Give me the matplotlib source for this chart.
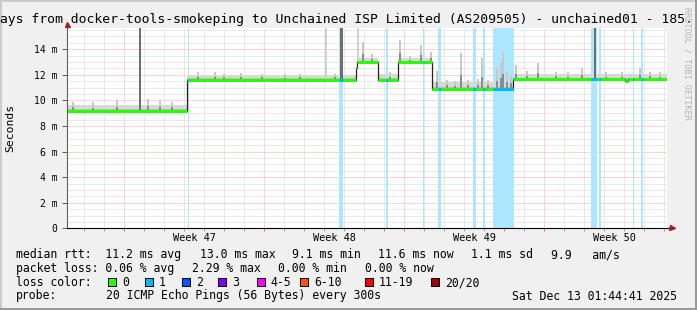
import matplotlib
matplotlib.use("Agg")
import matplotlib.pyplot as plt
from matplotlib.patches import Rectangle

W, H = 697, 310
plt.rcParams['font.family'] = ['DejaVu Sans Mono']

# x axis is days since the start of the 30 day window
week_labels = ["Week 47", "Week 48", "Week 49", "Week 50"]
week_starts = [2.865, 9.865, 16.865, 23.865]
first_midnight = 0.865

ytick_vals = [0, 2, 4, 6, 8, 10, 12, 14]
ytick_text = ["0", "2 m", "4 m", "6 m", "8 m", "10 m", "12 m", "14 m"]

# median rtt in ms, as steps
med_start = [0.0, 6.0, 14.45, 14.5, 15.55, 16.55, 18.27, 22.28, 27.9, 28.05]
med_value = [9.15, 11.6, 12.5, 13.0, 11.6, 13.0, 10.9, 11.65, 11.5, 11.65]

# smoke above the median
smoke_start = [0.0, 6.0, 14.5, 15.55, 16.55, 18.27, 22.28]
smoke_end = [6.0, 14.45, 15.55, 16.55, 18.27, 22.28, 30.0]
smoke_top = [9.65, 12.0, 13.3, 12.05, 13.3, 11.45, 12.1]

# single smoke spikes
spike_day = [0.29, 1.3, 2.5, 4.07, 4.65, 5.25,
             6.55, 7.4, 7.85, 8.7, 9.75, 10.9, 11.65, 13.4,
             14.82, 15.25,
             16.15,
             16.67, 17.15, 17.72, 18.2,
             18.48, 18.99, 19.4, 19.7, 20.05, 20.55, 20.74, 21.05, 21.48, 21.7, 21.8, 22.0, 22.2,
             22.45, 23.0, 23.55, 24.45, 25.05, 25.75, 26.95, 27.75, 28.65, 29.15, 29.65]
spike_top = [9.9, 9.85, 10.0, 10.15, 9.95, 9.9,
             12.25, 12.2, 12.1, 12.15, 12.1, 12.05, 12.1, 12.1,
             14.6, 13.6,
             12.2,
             14.7, 13.5, 14.3, 13.8,
             12.3, 11.6, 11.5, 13.7, 11.6, 11.7, 13.3, 11.6, 12.5, 13.0, 13.8, 12.2, 12.0,
             12.75, 12.3, 12.9, 12.25, 12.2, 12.5, 12.2, 12.2, 12.5, 12.25, 12.2]

# smoke going off the top of the graph
tall_day = [12.95, 14.55]
dark_start = [3.6, 13.65, 26.33]
dark_end = [3.7, 13.8, 26.45]

# periods with 1/20 packet loss
loss_start = [6.05, 13.6, 15.93, 17.8, 18.53, 20.3, 20.8, 21.3, 26.2, 26.58, 28.3, 28.68]
loss_end = [6.10, 13.8, 16.05, 17.85, 18.7, 20.45, 20.88, 22.33, 26.5, 26.7, 28.37, 28.82]

loss_names = ["0", "1", "2", "3", "4-5", "6-10", "11-19", "20/20"]
loss_colors = ["#26ff00", "#00b8ff", "#0059ff", "#7e00ff", "#ff00ff", "#ff5500", "#ff0000", "#a10000"]

title = "Last 30 Days from docker-tools-smokeping to Unchained ISP Limited (AS209505) - unchained01 - 185."


def med_at(d):
    v = med_value[0]
    for s, m in zip(med_start, med_value):
        if d >= s:
            v = m
    return v


def fx(px):
    return px / W


def fy(py):
    return 1 - py / H


fig = plt.figure(figsize=(W / 100, H / 100), dpi=100, facecolor="#f0f0f0")
ax = fig.add_axes([fx(67), fy(228.3), 600 / W, 200 / H])
ax.set_facecolor("white")
ax.set_xlim(0, 30)
ax.set_ylim(0, 15.64)
for s in ax.spines.values():
    s.set_visible(False)

# grid
ax.set_xticks(week_starts)
ax.set_xticks([first_midnight + i for i in range(30)], minor=True)
ax.set_yticks(ytick_vals)
ax.set_yticklabels(ytick_text)
ax.set_yticks([i * 0.5 for i in range(32)], minor=True)
ax.set_xticklabels([])
ax.grid(which="major", color="#ffa8a8", linestyle=(0, (1, 1)), lw=0.72, zorder=0)
ax.grid(which="minor", color="#d4d4d4", linestyle=(0, (1, 1)), lw=0.72, zorder=0)
ax.set_axisbelow(True)
ax.tick_params(axis="x", which="major", color="#ff6060", length=2.5, width=0.72)
ax.tick_params(axis="x", which="minor", color="#a0a0a0", length=2.5, width=0.72)
ax.tick_params(axis="y", which="minor", length=0)
ax.tick_params(axis="y", which="major", color="#606060", length=3.5, width=0.72,
               pad=3.5, labelsize=7.0)

# loss bars
for a, b in zip(loss_start, loss_end):
    ax.axvspan(a, b, color="#abe8ff", lw=0, zorder=1)

# smoke
for a, b, t in zip(smoke_start, smoke_end, smoke_top):
    base = med_at((a + b) / 2)
    ax.fill_between([a, b], base - 0.12, t, color="#d8d8d8", lw=0, zorder=2)
    ax.fill_between([a, b], base - 0.12, base + 0.3 * (t - base), color="#c0c0c0", lw=0, zorder=2)

for d, t in zip(spike_day, spike_top):
    base = med_at(d)
    ax.bar(d, t - base, width=0.1, bottom=base, color="#c8c8c8", lw=0, zorder=3)
    ax.bar(d, 0.4 * (t - base), width=0.1, bottom=base, color="#8c8c8c", lw=0, zorder=3)

for d in tall_day:
    base = med_at(d)
    ax.bar(d, 20 - base, width=0.1, bottom=base, color="#d0d0d0", lw=0, zorder=3)

for a, b in zip(dark_start, dark_end):
    base = med_at(a)
    ax.bar(a, 20 - base, width=b - a, bottom=base, align="edge", color="#6e6e6e", lw=0, zorder=3)

# median
med_end = med_start[1:] + [30.0]
ax.step(med_start + [30.0], med_value + [med_value[-1]], where="post",
        color="#202020", lw=0.9, zorder=4)
ax.hlines(med_value, med_start, med_end, colors=loss_colors[0], lw=2.2, zorder=5)
for a, b in zip(loss_start, loss_end):
    for s, e, v in zip(med_start, med_end, med_value):
        lo, hi = max(a, s), min(b, e)
        if hi > lo:
            ax.hlines(v, lo, hi, colors=loss_colors[1], lw=2.2, zorder=6)

# axes with arrows
ax.plot([0, 0], [0, 1.02], transform=ax.transAxes, color="#606060", lw=0.8, clip_on=False, zorder=7)
ax.plot([0, 1.002], [0, 0], transform=ax.transAxes, color="black", lw=0.8, clip_on=False, zorder=7)
ax.plot([0], [1.0225], transform=ax.transAxes, marker="^", ms=3.6, color="#a02020", clip_on=False, zorder=8)
ax.plot([1.0075], [0], transform=ax.transAxes, marker=">", ms=3.6, color="#a02020", clip_on=False, zorder=8)

for lab, ws in zip(week_labels, week_starts):
    ax.text(ws + 3.5, -0.0635, lab, transform=ax.get_xaxis_transform(),
            ha="center", va="baseline", fontsize=7.4)

# texts around the graph
fig.text(fx(-71.4), fy(22.7), title, ha="left", va="baseline", fontsize=9.42)
fig.text(fx(10), fy(128), "Seconds", rotation=90, ha="center", va="center", fontsize=8.2)
fig.text(fx(687), fy(63), "RRDTOOL / TOBI OETIKER", rotation=-90, ha="center", va="center",
         fontsize=6.1, color="#b4b4b4")

fs = 8.32
row1 = [(15.5, "median rtt:  11.2 ms avg"), (199.7, "13.0 ms max"), (292.5, "9.1 ms min"),
        (378.0, "11.6 ms now"), (471.0, "1.1 ms sd"), (550.8, "9.9   am/s")]
row2 = [(15.5, "packet loss: 0.06 % avg"), (192.4, "2.29 % max"), (278.1, "0.00 % min"),
        (364.8, "0.00 % now")]
for x, s in row1:
    fig.text(fx(x), fy(258.3), s, ha="left", va="baseline", fontsize=fs)
for x, s in row2:
    fig.text(fx(x), fy(272.3), s, ha="left", va="baseline", fontsize=fs)

fig.text(fx(15.5), fy(286.2), "loss color:", ha="left", va="baseline", fontsize=fs)
box_x = [108.3, 145, 181.7, 218.3, 256.7, 300, 365, 431]
for x, name, c in zip(box_x, loss_names, loss_colors):
    fig.patches.append(Rectangle((fx(x), fy(285.7)), 8 / W, 8 / H, transform=fig.transFigure,
                                 facecolor=c, edgecolor="black", lw=0.72))
    fig.text(fx(x + 14), fy(286.2), name, ha="left", va="baseline", fontsize=fs)

fig.text(fx(15.5), fy(299.5), "probe:", ha="left", va="baseline", fontsize=fs)
fig.text(fx(106.2), fy(299.5), "20 ICMP Echo Pings (56 Bytes) every 300s", ha="left",
         va="baseline", fontsize=fs)
fig.text(fx(512.3), fy(299.5), "Sat Dec 13 01:44:41 2025", ha="left", va="baseline", fontsize=fs)

# 3d frame
fig.patches.append(Rectangle((0, 0), fx(2), 1, transform=fig.transFigure, color="#cbcbcb", lw=0))
fig.patches.append(Rectangle((0, fy(2)), 1, 2 / H, transform=fig.transFigure, color="#cbcbcb", lw=0))
fig.patches.append(Rectangle((fx(W - 2), 0), fx(2), 1, transform=fig.transFigure, color="#999999", lw=0))
fig.patches.append(Rectangle((0, 0), 1, 2 / H, transform=fig.transFigure, color="#999999", lw=0))

fig.savefig("out.png", dpi=100, facecolor=fig.get_facecolor())
